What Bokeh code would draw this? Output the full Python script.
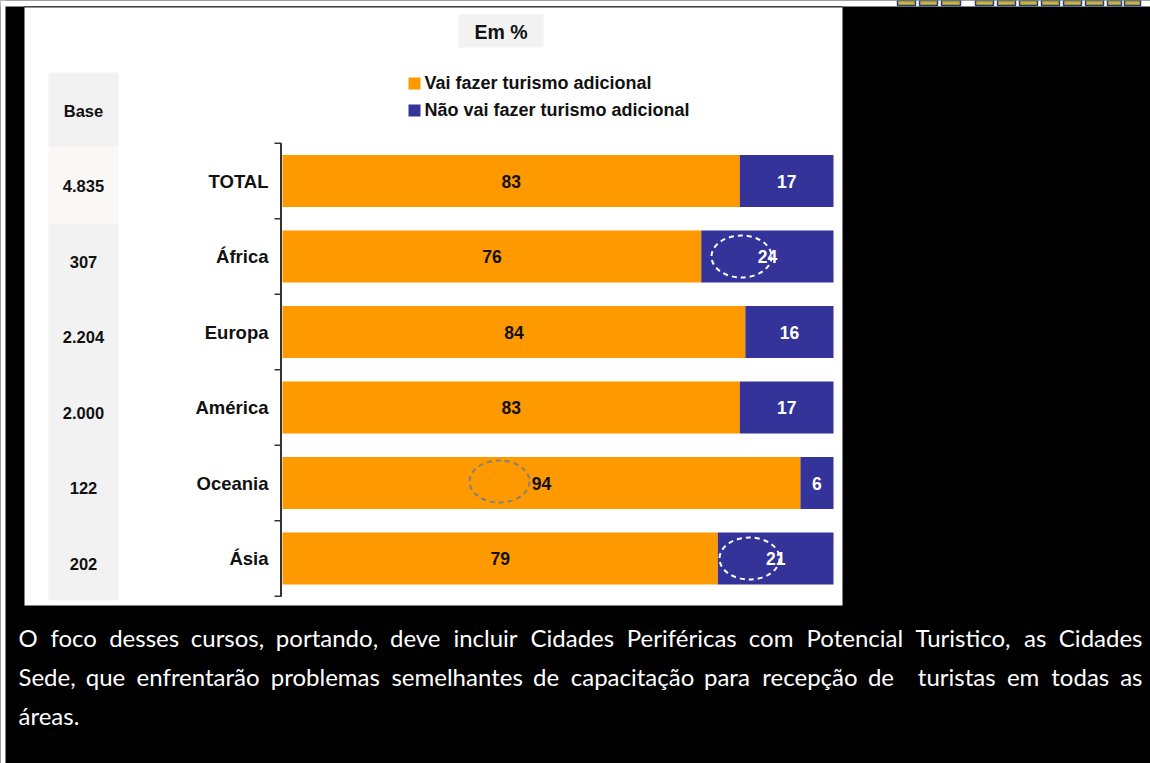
from bokeh.plotting import figure
from bokeh.models import Range1d
from bokeh.core.properties import value
from bokeh.embed import file_html
from bokeh.resources import INLINE

# ---------------- data ----------------
categories = ["TOTAL", "África", "Europa", "América", "Oceania", "Ásia"]
base = ["4.835", "307", "2.204", "2.000", "122", "202"]
vai = [83, 76, 84, 83, 94, 79]
nao = [17, 24, 16, 17, 6, 21]
series = ["Vai fazer turismo adicional", "Não vai fazer turismo adicional"]
colors = ["#FF9900", "#333399"]
unit_label = "Em %"
base_label = "Base"
paragraph = [
    "O foco desses cursos, portando, deve incluir Cidades Periféricas com Potencial Turistico, as Cidades",
    "Sede, que enfrentarão problemas semelhantes de capacitação para recepção de  turistas em todas as",
    "áreas.",
]

# ---------------- layout helpers (page pixels -> data) ----------------
W, H = 1150, 763
X0_PX, PX_PER_PCT = 282.0, 5.51
Y0_PX, PX_PER_ROW = 180.5, 75.5


def dx(px):
    return (px - X0_PX) / PX_PER_PCT


def dy(py):
    return (py - Y0_PX) / PX_PER_ROW


p = figure(width=W, height=H,
           x_range=Range1d(dx(0), dx(W)),
           y_range=Range1d(dy(H), dy(0)),
           x_axis_type=None, y_axis_type=None,
           output_backend="svg", toolbar_location=None,
           min_border=0, background_fill_color="black",
           border_fill_color="black", outline_line_color=None)
p.grid.visible = False

ARIAL = value("Liberation Sans")

# page frame: white strips at top and left, thin rule above the panel
p.quad(left=dx(0), right=dx(W), top=dy(0), bottom=dy(6), fill_color="white", line_color=None)
p.quad(left=dx(0), right=dx(5), top=dy(0), bottom=dy(H), fill_color="white", line_color=None)
p.segment(x0=dx(24), x1=dx(842), y0=dy(6.5), y1=dy(6.5), line_color="#333333", line_width=1.5)

# partial logo cut off at the top right
logo_l = [897, 919, 941, 975, 997, 1019, 1041, 1063, 1085, 1107, 1124]
logo_r = [915, 937, 960, 993, 1015, 1037, 1059, 1081, 1103, 1121, 1140]
p.quad(left=[dx(v) for v in logo_l], right=[dx(v) for v in logo_r],
       top=[dy(0)] * len(logo_l), bottom=[dy(5)] * len(logo_l),
       fill_color="#c9b43c", line_color="#2b3f73", line_width=1.5)

# white chart panel
p.quad(left=dx(24), right=dx(842), top=dy(7), bottom=dy(605),
       fill_color="white", line_color=None)

# base column
p.quad(left=dx(48), right=dx(118), top=dy(72), bottom=dy(147),
       fill_color="#f2f2f2", line_color=None)
p.quad(left=dx(48), right=dx(118), top=dy(147), bottom=dy(223),
       fill_color="#faf8f5", line_color=None)
p.quad(left=dx(48), right=dx(118), top=dy(223), bottom=dy(600),
       fill_color="#f2f2f2", line_color=None)

# "Em %" box
p.quad(left=dx(458), right=dx(543), top=dy(14), bottom=dy(47),
       fill_color="#f2f2f2", line_color=None)
p.text(x=[dx(500.5)], y=[dy(31)], text=[unit_label], text_font=ARIAL,
       text_font_style="bold", text_font_size="19.5px", text_color="#111111",
       text_align="center", text_baseline="middle")

# legend (manual)
p.quad(left=[dx(408)] * 2, right=[dx(420)] * 2,
       top=[dy(77), dy(104)], bottom=[dy(89), dy(116)],
       fill_color=colors, line_color=None)
p.text(x=[dx(424)] * 2, y=[dy(82), dy(109)], text=series, text_font=ARIAL,
       text_font_style="bold", text_font_size="18px", text_color="#111111",
       text_align="left", text_baseline="middle")

idx = list(range(len(categories)))

# bars
left_nao = vai
right_nao = [v + n for v, n in zip(vai, nao)]
p.hbar(y=idx, left=0, right=vai, height=0.69, fill_color=colors[0], line_color=None)
p.hbar(y=idx, left=left_nao, right=right_nao, height=0.69, fill_color=colors[1], line_color=None)

# value labels
p.text(x=[v / 2 for v in vai], y=idx, text=[str(v) for v in vai], text_font=ARIAL,
       text_font_style="bold", text_font_size="17.5px", text_color="#111111",
       text_align="center", text_baseline="middle")
p.text(x=[v + n / 2 for v, n in zip(vai, nao)], y=idx, text=[str(n) for n in nao],
       text_font=ARIAL, text_font_style="bold", text_font_size="17.5px",
       text_color="white", text_align="center", text_baseline="middle")

# bracket axis
p.segment(x0=dx(280.5), x1=dx(280.5), y0=-0.5, y1=len(categories) - 0.5,
          line_color="#333333", line_width=2)
bounds = [i - 0.5 for i in range(len(categories) + 1)]
p.segment(x0=[dx(274)] * len(bounds), x1=[dx(281)] * len(bounds), y0=bounds, y1=bounds,
          line_color="#333333", line_width=1.5)

# category labels
p.text(x=[dx(268)] * len(categories), y=idx, text=categories, text_font=ARIAL,
       text_font_style="bold", text_font_size="18.5px", text_color="#111111",
       text_align="right", text_baseline="middle")

# base values
p.text(x=[dx(83)], y=[dy(110)], text=[base_label], text_font=ARIAL,
       text_font_style="bold", text_font_size="16.5px", text_color="#111111",
       text_align="center", text_baseline="middle")
p.text(x=[dx(83)] * len(base), y=idx, y_offset=5, text=base, text_font=ARIAL,
       text_font_style="bold", text_font_size="16.5px", text_color="#111111",
       text_align="center", text_baseline="middle")

# dashed highlight ellipses
p.ellipse(x=[dx(741), dx(499), dx(749)], y=[dy(256), dy(481), dy(558)],
          width=60, height=42, width_units="screen", height_units="screen",
          fill_color=None, line_color=["white", "#808080", "white"],
          line_dash="5 4", line_width=2)

# ---------------- paragraph below (justified, word by word) ----------------
FS = 24.0
EM = {" ": .19, ",": .21, ".": .21, "O": .76, "C": .67, "P": .58, "T": .57, "S": .51,
      "a": .50, "á": .50, "ã": .50, "b": .55, "c": .45, "ç": .45, "d": .55, "e": .51,
      "é": .51, "f": .32, "g": .49, "h": .55, "i": .24, "l": .24, "m": .83, "n": .55,
      "o": .55, "p": .55, "r": .37, "s": .42, "t": .35, "u": .55, "v": .50, "z": .45}


def est_width(word):
    return sum(EM.get(ch, .55) for ch in word) * FS


LEFT, RIGHT = 18, 1142
line_y = [637, 676, 715]
wx, wy, wt = [], [], []
lx, ly, lt = [], [], []
for line, ypx in zip(paragraph, line_y):
    words = line.split(" ")
    if line is paragraph[-1] or len(words) == 1:
        wx.append(dx(LEFT)); wy.append(dy(ypx)); wt.append(line)
        continue
    widths = [est_width(w) for w in words]
    gap = (RIGHT - LEFT - sum(widths)) / (len(words) - 1)
    xpos = LEFT
    for k, (w, wd) in enumerate(zip(words, widths)):
        if k == len(words) - 1:
            lx.append(dx(RIGHT)); ly.append(dy(ypx)); lt.append(w)
        elif w:
            wx.append(dx(xpos)); wy.append(dy(ypx)); wt.append(w)
        xpos += wd + gap

p.text(x=wx, y=wy, text=wt, text_font=value("Lato"), text_font_size=f"{FS}px",
       text_color="white", text_align="left", text_baseline="middle")
p.text(x=lx, y=ly, text=lt, text_font=value("Lato"), text_font_size=f"{FS}px",
       text_color="white", text_align="right", text_baseline="middle")

open("out.html", "w").write(file_html(p, INLINE))
